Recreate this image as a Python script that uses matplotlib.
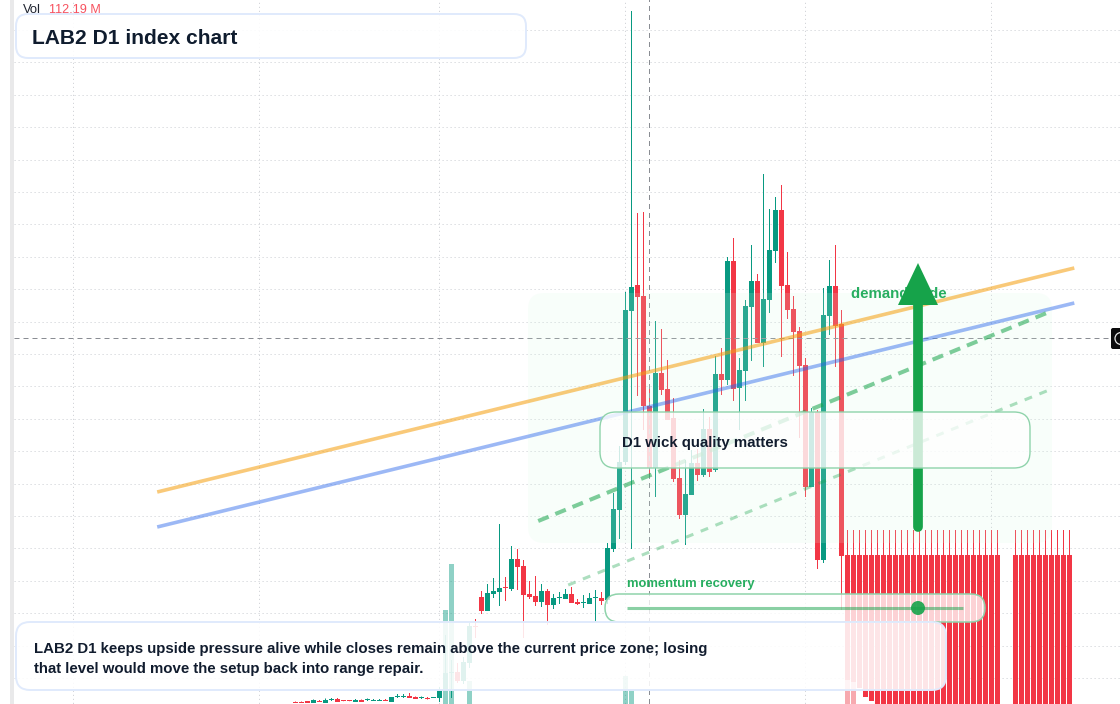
import numpy as np
import matplotlib
matplotlib.use("Agg")
import matplotlib.pyplot as plt
from matplotlib.patches import FancyBboxPatch, Polygon, Rectangle, Circle

plt.rcParams['font.family'] = ['Liberation Sans', 'DejaVu Sans']

# ---- data: candles on a relative price scale, one entry per daily bar ----
opens = [2.5,2.5,3,1,3.5,1,4.2,5,3.2,3.2,2,4,3.6,3.2,3.2,4,2,7.2,7.2,8,7.5,6.2,6.5,6.3,6,
         13,30.8,32,23,41,77.2,107,93,110,112,116.2,115,145,138,110,108,102,113,99,105.8,105,110,102,100.8,100,105.8,106,
         104,155,194,242,393,419,408,298,236,331,315,286,226,189,209,241,229,275,234,330,324,443,316,333,397,423,361,404,453,494,419,395,373,339,217,292,144,388,418,380,
         149,149,149,149,149,149,149,149,149,149,149,149,149,149,149,149,149,149,149,149,149,149,149,149,149,149,
         np.nan,np.nan,149,149,149,149,149,149,149,149,149,149]
highs = [2.5,2.5,3,4.5,4,5.5,6,6,3.2,3.2,5,4.5,5.5,5,5,5,7,10,10,11,7.5,7.5,7,6.7,17,
         69,44,41,47,82,85,113,120,126,180,127,158,155,144,123,128,120,115,110,112,115,117,105,109,111,114,112,
         161,211,258,412,693,491,492,316,383,375,344,306,244,244,254,255,295,287,348,356,447,466,346,404,459,430,530,495,507,519,452,408,377,346,296,294,416,444,459,394,
         174,174,174,174,174,174,174,174,174,174,174,174,174,174,174,174,174,174,174,174,174,174,174,174,174,174,
         np.nan,np.nan,174,174,174,174,174,174,174,174,174,174]
lows = [1.5,1.5,1,1,2,1,3,2,2.8,2.8,2,2,3,3,3,3,2,6,6,6,5,5,4.5,6.3,2,
        13,6,21,20,36,66,90,93,106,98,103,113,114,66,105,98,97,79,95,100,105,101,99,96,100,82,99,
        100,152,165,239,155,308,274,228,207,309,284,222,185,159,209,223,227,227,232,309,319,303,274,303,343,361,337,391,441,347,385,328,266,207,217,135,141,369,337,94,
        24,22,16,7,3,-60,-60,-60,-60,-60,-60,-60,-60,-60,-60,-60,-60,-60,-60,-60,-60,-60,-60,-60,-60,-60,
        np.nan,np.nan,-60,-60,-60,-60,-60,-60,-60,-60,-60,-60]
closes = [1.5,1.5,1,4,2,4.5,4.6,2,2.8,2.8,4.5,2,4.4,3.8,3.8,3,7,7.8,7.8,6.5,5.5,6.8,5,6.7,14,
          31,31.2,23,42,78,76.8,93,111,113,116,115.8,145,137,109,107,102,113,99,106,106.2,110,101,100,101.2,106,106.2,103,
          156,195,242,394,417,407,298,236,331,314,284,225,189,210,241,229,275,232,330,324,443,315,334,398,423,361,405,454,494,418,394,372,338,217,292,144,389,418,378,148,
          24,22,16,7,3,-60,-60,-60,-60,-60,-60,-60,-60,-60,-60,-60,-60,-60,-60,-60,-60,-60,-60,-60,-60,-60,
          np.nan,np.nan,-60,-60,-60,-60,-60,-60,-60,-60,-60,-60]

volume_bars = [25, 26, 29, 55, 56, 92, 93]
volume_vals = [94, 140, 23, 28, 14, 24, 24]
volume_up =   [True, True, True, True, True, False, False]

title_text = "LAB2 D1 index chart"
note_lines = ["LAB2 D1 keeps upside pressure alive while closes remain above the current price zone; losing",
              "that level would move the setup back into range repair."]
callout_text = "D1 wick quality matters"
zone_text = "demand slide"
slider_text = "momentum recovery"
vol_label = "Vol"
vol_value = "112.19 M"

# trend lines: (bar index, price) end points
orange_line = ([-23.05, 129.8], [212, 436])
blue_line = ([-23.05, 129.8], [177, 401])
dash_strong = ([40.45, 125.6], [183, 392])
dash_light = ([45.45, 125.6], [119, 314])
crosshair_bar = 59.0
crosshair_price = 365.6
hgrid_prices = [674.1, 641.7, 609.3, 576.9, 544.5, 512.1, 479.7, 447.3, 414.9, 382.5, 350.1,
                317.7, 285.3, 252.9, 220.5, 188.1, 155.7, 123.3, 90.9, 58.5, 26.1]
vgrid_bars = [-37.0, -6.0, 24.0, 55.0, 85.0, 116.0]

UP = '#089981'
DOWN = '#f23645'
W, H = 1120, 704
X0 = 295.5

fig = plt.figure(figsize=(W / 100, H / 100), dpi=100, facecolor='white')
ax = fig.add_axes([0, 0, 1, 1])
ax.set_xlim(-X0 / 6, (W - X0) / 6)
ax.set_ylim(0, H)
ax.axis('off')

px = 1 / 6          # one pixel in bar units
lw1 = 72 / 100      # one pixel in points
GRID = '#d4d6da'

# grid
for p in hgrid_prices:
    ax.plot([(14 - X0) / 6, (W - X0) / 6], [p, p], color=GRID, lw=lw1, ls=(0, (1.2, 2.8)), zorder=1)
for b in vgrid_bars:
    ax.plot([b, b], [0, H], color=GRID, lw=lw1, ls=(0, (1.2, 2.8)), zorder=1, snap=False)

# left rail
ax.add_patch(Rectangle(((10 - X0) / 6, 0), 4 * px, H, color='#e9e9ea', lw=0, zorder=1))

# volume
for i, v, up in zip(volume_bars, volume_vals, volume_up):
    ax.bar(i, v, width=5 * px, color=UP if up else '#f7a0a6', alpha=0.45 if up else 0.9, lw=0, zorder=2)

# candles
for i, (o, h, l, c) in enumerate(zip(opens, highs, lows, closes)):
    if np.isnan(o):
        continue
    col = UP if c >= o else DOWN
    ax.plot([i, i], [l, h], color=col, lw=lw1, solid_capstyle='butt', zorder=3, snap=False)
    ax.bar(i, max(abs(c - o), 1), bottom=min(o, c), width=5 * px, color=col, lw=0, zorder=3)

# crosshair
ax.plot([crosshair_bar] * 2, [0, H], color='#8a8d93', lw=lw1, ls=(0, (5, 4)), zorder=4, snap=False)
ax.plot([(14 - X0) / 6, (1110 - X0) / 6], [crosshair_price] * 2, color='#8a8d93', lw=lw1, ls=(0, (5, 4)), zorder=4)

# overlay axes in figure pixels
ov = fig.add_axes([0, 0, 1, 1], facecolor='none')
ov.set_xlim(0, W)
ov.set_ylim(H, 0)
ov.axis('off')
ov.set_zorder(5)


def rbox(x0, y0, x1, y1, r, fc, ec, alpha_f, lw, z):
    face = matplotlib.colors.to_rgba(fc, alpha_f)
    ov.add_patch(FancyBboxPatch((x0 + r, y0 + r), x1 - x0 - 2 * r, y1 - y0 - 2 * r,
                                boxstyle=f"round,pad={r},rounding_size={r}",
                                fc=face, ec=ec, lw=lw, zorder=z))


# demand zone
rbox(528, 293, 1052, 543, 16, '#d8fbe5', 'none', 0.16, 0, 1)

# trend lines
ax2 = fig.add_axes([0, 0, 1, 1], facecolor='none', sharex=ax, sharey=ax)
ax2.axis('off')
ax2.set_zorder(6)
ax2.plot(*orange_line, color='#f59e0b', alpha=0.55, lw=2.6, zorder=2, solid_capstyle='butt')
ax2.plot(*blue_line, color='#2563eb', alpha=0.45, lw=2.6, zorder=2, solid_capstyle='butt')
ax2.plot(*dash_strong, color='#16a34a', alpha=0.55, lw=2.9, ls=(0, (2.8, 1.8)), zorder=2)
ax2.plot(*dash_light, color='#16a34a', alpha=0.35, lw=2.2, ls=(0, (2.6, 2.6)), zorder=2)

ov2 = fig.add_axes([0, 0, 1, 1], facecolor='none')
ov2.set_xlim(0, W)
ov2.set_ylim(H, 0)
ov2.axis('off')
ov2.set_zorder(7)
ov = ov2

GREEN_TEXT = '#27ae60'
INK = '#111c2e'

# arrow and zone label
ov.text(851, 294, zone_text, color=GREEN_TEXT, fontsize=10.8, fontweight='bold', va='center', zorder=1)
ov.plot([918, 918], [305, 527], color='#16a34a', lw=7.0, solid_capstyle='round', zorder=2)
ov.add_patch(Polygon([[918, 263], [938, 305], [898, 305]], closed=True, fc='#16a34a', ec='none', zorder=2))

# callout
rbox(600, 412, 1030, 468, 16, 'white', '#8fd3ab', 0.78, 1.0, 3)
ov.text(622, 443, callout_text, color=INK, fontsize=10.8, fontweight='bold', va='center', zorder=4)

# slider
rbox(605, 594, 985, 622, 14, 'white', '#8fd3ab', 0.78, 1.1, 3)
ov.text(627, 584, slider_text, color=GREEN_TEXT, fontsize=9.36, fontweight='bold', va='center', zorder=4)
ov.plot([627, 963], [608, 608], color='#16a34a', alpha=0.5, lw=2.2, solid_capstyle='butt', zorder=4)
ov.add_patch(Circle((918, 608), 7, fc='#16a34a', ec='none', alpha=0.9, zorder=5))

# note
rbox(16, 622, 946, 690, 14, 'white', '#e0eafc', 0.88, 1.4, 6)
ov.text(34, 649, note_lines[0], color=INK, fontsize=10.8, fontweight='bold', va='center', zorder=7)
ov.text(34, 669, note_lines[1], color=INK, fontsize=10.8, fontweight='bold', va='center', zorder=7)

# title
rbox(16, 14, 526, 58, 12, 'white', '#e0eafc', 0.9, 1.4, 6)
ov.text(32, 38, title_text, color='#0f1c2e', fontsize=15.1, fontweight='bold', va='center', zorder=7)

# legend
ov.text(23, 10, vol_label, color='#1f2430', fontsize=9.36, va='center', zorder=8)
ov.text(49, 10, vol_value, color='#f7525f', fontsize=9.1, va='center', zorder=8)

# crosshair price tag
ov.add_patch(FancyBboxPatch((1113, 330), 20, 17, boxstyle="round,pad=2,rounding_size=2", fc='#0b0b0d', ec='none', zorder=8))
ov.add_patch(Circle((1121, 338.5), 6, fc='none', ec='#e6e6e6', lw=0.9, zorder=9))

fig.savefig('out.png', dpi=100)
